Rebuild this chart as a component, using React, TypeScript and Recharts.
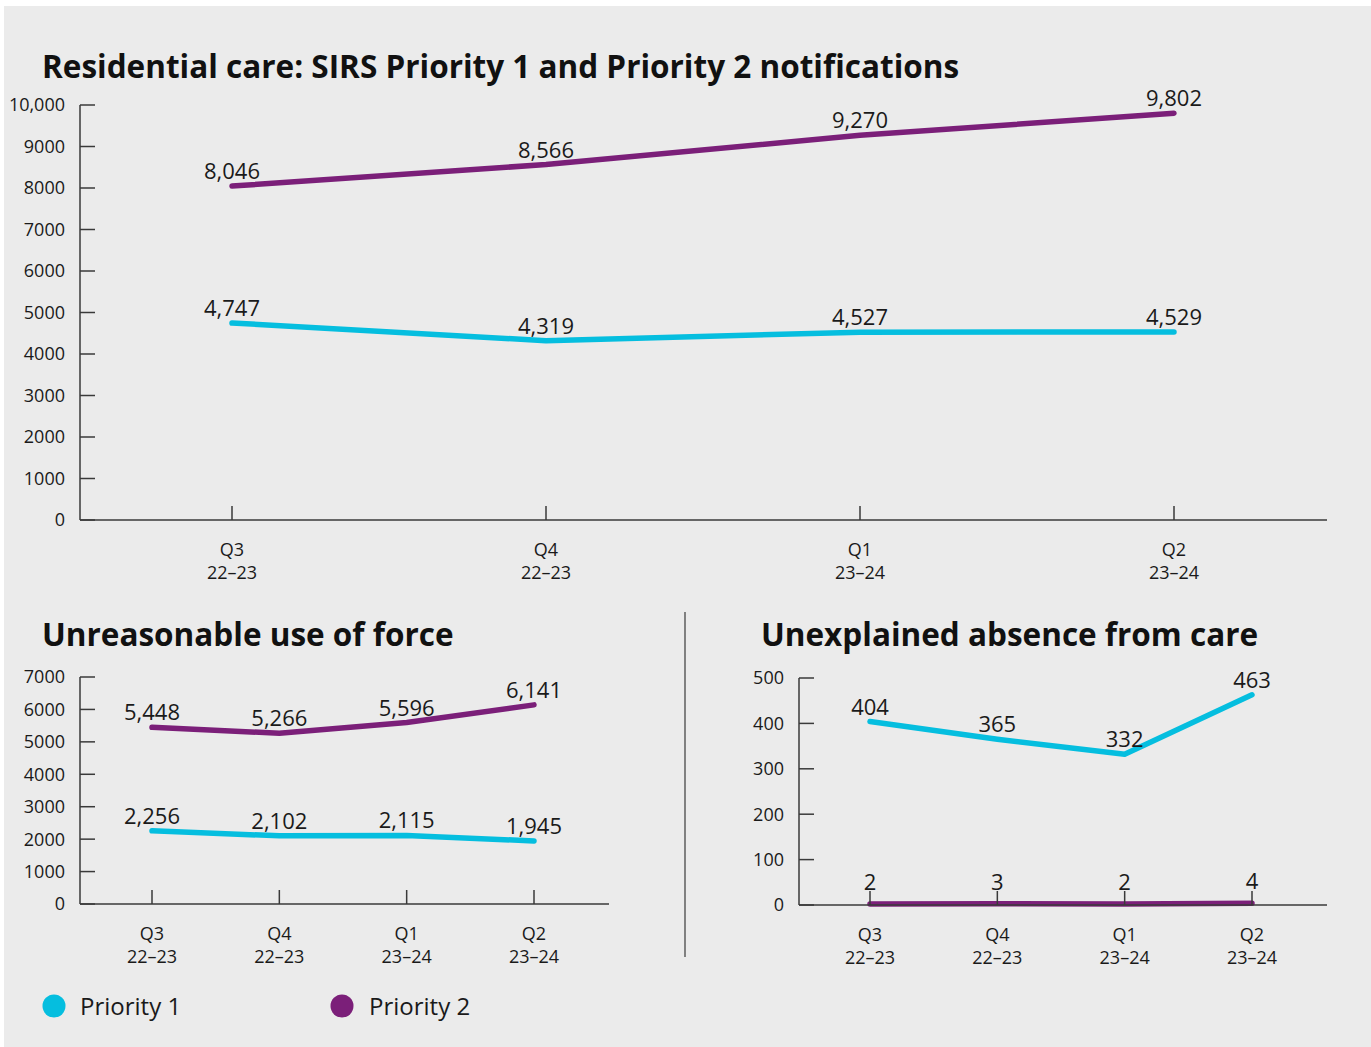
import { LineChart, Line, XAxis, YAxis, LabelList } from "recharts";

// categories
const quarters = ["Q3", "Q4", "Q1", "Q2"];
const years = ["22–23", "22–23", "23–24", "23–24"];

// Residential care: SIRS Priority 1 and Priority 2 notifications
const residentialP1 = [4747, 4319, 4527, 4529];
const residentialP2 = [8046, 8566, 9270, 9802];
// Unreasonable use of force
const forceP1 = [2256, 2102, 2115, 1945];
const forceP2 = [5448, 5266, 5596, 6141];
// Unexplained absence from care
const absenceP1 = [404, 365, 332, 463];
const absenceP2 = [2, 3, 2, 4];

const residentialTicks = [0, 1000, 2000, 3000, 4000, 5000, 6000, 7000, 8000, 9000, 10000];
const forceTicks = [0, 1000, 2000, 3000, 4000, 5000, 6000, 7000];
const absenceTicks = [0, 100, 200, 300, 400, 500];

const seriesNames = ["Priority 1", "Priority 2"];

const CYAN = "#05bedf";
const PURPLE = "#7b1f79";
const INK = "#1a1a1a";
const AXIS = "#3a3a3a";
const FONT = "'Open Sans', 'Noto Sans', sans-serif";

const rows = (p1: number[], p2: number[]) =>
  quarters.map((q, i) => ({ label: `${q}\n${years[i]}`, p1: p1[i], p2: p2[i] }));

const QuarterTick = (props: any) => {
  const { x, y, payload } = props;
  const [q, yr] = String(payload.value).split("\n");
  return (
    <g>
      <text x={x} y={y} dy="0.71em" textAnchor="middle" fill={INK} fontSize={18} fontFamily={FONT}>
        {q}
      </text>
      <text x={x} y={y + 23} dy="0.71em" textAnchor="middle" fill={INK} fontSize={18} fontFamily={FONT}>
        {yr}
      </text>
    </g>
  );
};

const fmtValue = (v: any) => Number(v).toLocaleString("en-US");
const fmtAxis = (v: number) => (v >= 10000 ? v.toLocaleString("en-US") : String(v));

interface PanelProps {
  p1: number[];
  p2: number[];
  ticks: number[];
  width: number;
  height: number;
  margin: { top: number; right: number; left: number; bottom: number };
  yWidth: number;
  pad: { left: number; right: number };
  p2Offset?: number;
}

function Panel({ p1, p2, ticks, width, height, margin, yWidth, pad, p2Offset = 7 }: PanelProps) {
  const data = rows(p1, p2);
  const labelProps = { fontSize: 22, fill: INK, fontFamily: FONT };
  return (
    <LineChart width={width} height={height} data={data} margin={margin}>
      <XAxis
        dataKey="label"
        interval={0}
        height={70}
        padding={pad}
        axisLine={{ stroke: AXIS, strokeWidth: 1.5 }}
        tickLine={{ stroke: AXIS, strokeWidth: 1.5 }}
        tickSize={-14}
        tickMargin={37}
        tick={<QuarterTick />}
      />
      <YAxis
        width={yWidth}
        domain={[ticks[0], ticks[ticks.length - 1]]}
        ticks={ticks}
        interval={0}
        axisLine={{ stroke: AXIS, strokeWidth: 1.5 }}
        tickLine={{ stroke: AXIS, strokeWidth: 1.5 }}
        tickSize={-15}
        tickMargin={30}
        tickFormatter={fmtAxis}
        tick={{ fill: INK, fontSize: 18, fontFamily: FONT }}
      />
      <Line
        type="linear"
        dataKey="p1"
        name={seriesNames[0]}
        stroke={CYAN}
        strokeWidth={5.5}
        strokeLinecap="round"
        strokeLinejoin="round"
        dot={false}
        isAnimationActive={false}
      >
        <LabelList dataKey="p1" position="top" offset={7} formatter={fmtValue} {...labelProps} />
      </Line>
      <Line
        type="linear"
        dataKey="p2"
        name={seriesNames[1]}
        stroke={PURPLE}
        strokeWidth={5.5}
        strokeLinecap="round"
        strokeLinejoin="round"
        dot={false}
        isAnimationActive={false}
      >
        <LabelList dataKey="p2" position="top" offset={p2Offset} formatter={fmtValue} {...labelProps} />
      </Line>
    </LineChart>
  );
}

export default function App() {
  const titleStyle = { fontSize: 31.5, fontWeight: 700, fill: "#111", fontFamily: FONT };
  return (
    <div style={{ position: "absolute", left: 0, top: 0, width: 1371, height: 1047, background: "#ffffff" }}>
      <div style={{ position: "absolute", left: 4, top: 6, right: 0, bottom: 0, background: "#ebebeb" }} />
      <svg width={1371} height={1047} style={{ position: "absolute", left: 0, top: 0 }}>
        <text x={42} y={78} {...titleStyle}>Residential care: SIRS Priority 1 and Priority 2 notifications</text>
        <text x={42} y={646} {...titleStyle}>Unreasonable use of force</text>
        <text x={761} y={646} {...titleStyle}>Unexplained absence from care</text>
        <line x1={685} x2={685} y1={612} y2={957} stroke={AXIS} strokeWidth={1.2} />
        {[CYAN, PURPLE].map((c, i) => (
          <g key={seriesNames[i]}>
            <circle cx={54 + i * 288} cy={1006} r={11.5} fill={c} />
            <text x={80 + i * 289} y={1015} fontSize={24} fill={INK} fontFamily={FONT}>
              {seriesNames[i]}
            </text>
          </g>
        ))}
      </svg>
      <div style={{ position: "absolute", left: 0, top: 0 }}>
        <Panel
          p1={residentialP1}
          p2={residentialP2}
          ticks={residentialTicks}
          width={1371}
          height={590}
          margin={{ top: 105, right: 44, left: 0, bottom: 0 }}
          yWidth={80}
          pad={{ left: 152, right: 153 }}
        />
      </div>
      <div style={{ position: "absolute", left: 0, top: 620 }}>
        <Panel
          p1={forceP1}
          p2={forceP2}
          ticks={forceTicks}
          width={620}
          height={354}
          margin={{ top: 57, right: 11, left: 0, bottom: 0 }}
          yWidth={80}
          pad={{ left: 72, right: 75 }}
        />
      </div>
      <div style={{ position: "absolute", left: 700, top: 620 }}>
        <Panel
          p1={absenceP1}
          p2={absenceP2}
          ticks={absenceTicks}
          width={671}
          height={355}
          margin={{ top: 58, right: 44, left: 0, bottom: 0 }}
          yWidth={99}
          pad={{ left: 71, right: 75 }}
          p2Offset={14}
        />
      </div>
    </div>
  );
}
